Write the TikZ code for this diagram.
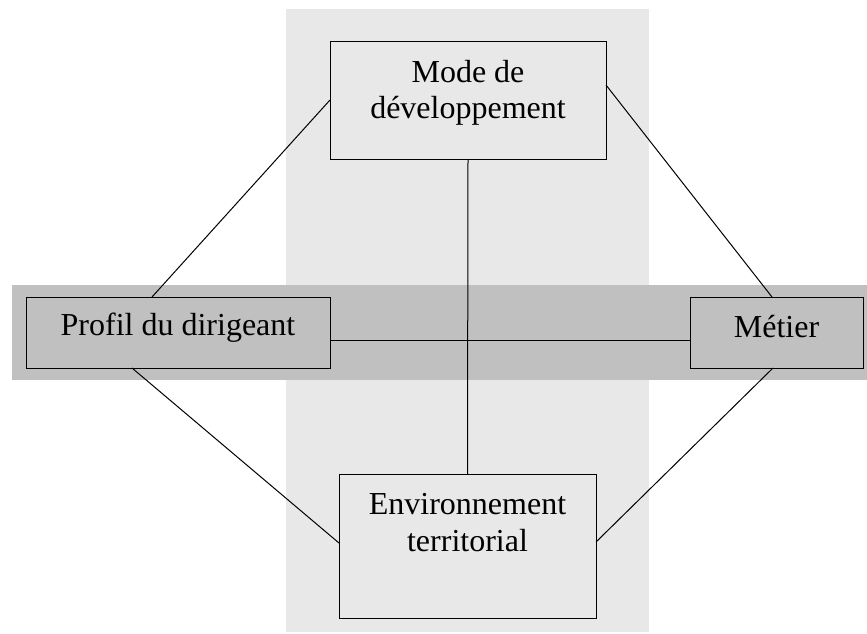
\documentclass[tikz,border=0pt]{standalone}
\usepackage{fontspec}
\setmainfont{Liberation Serif}
\definecolor{lightband}{RGB}{232,232,232}
\definecolor{darkband}{RGB}{192,192,192}
\begin{document}
\begin{tikzpicture}[x=1pt,y=-1pt,
  box/.style={draw=black,line width=1pt,inner sep=0pt,outer sep=0pt},
  lab/.style={font=\fontsize{32pt}{37pt}\selectfont,inner sep=0pt,anchor=base},
  conn/.style={line width=1pt,draw=black}]
\useasboundingbox (0,0) rectangle (867,633);
% bands
\fill[lightband] (286,9) rectangle (649,632);
\fill[darkband] (12,285) rectangle (867,380);
% boxes
\node[box,fill=lightband,minimum width=276pt,minimum height=118pt] (mode) at (468,100) {};
\node[box,fill=darkband,minimum width=304pt,minimum height=71pt] (profil) at (178,332.5) {};
\node[box,fill=darkband,minimum width=173pt,minimum height=71pt] (metier) at (776.5,332.5) {};
\node[box,fill=lightband,minimum width=257pt,minimum height=144pt] (env) at (467.5,546) {};
% labels
\node[lab] (l1) at (468,82) {Mode de};
\node[lab] (l2) at (468,118) {développement};
\node[lab] (l3) at (178,335) {Profil du dirigeant};
\node[lab] (l4) at (776.5,337) {Métier};
\node[lab] (l5) at (467.5,514) {Environnement};
\node[lab] (l6) at (467.5,551) {territorial};
% connectors
\draw[conn] (mode.west) -- ([xshift=126pt]profil.north west);
\draw[conn] ([yshift=-44pt]mode.north east) -- ([xshift=82pt]metier.north west);
\draw[conn] (mode.south) -- (env.north);
\draw[conn] ([yshift=-43pt]profil.north east) -- ([yshift=-43pt]metier.north west);
\draw[conn] ([xshift=106pt]profil.south west) -- ([yshift=-69pt]env.north west);
\draw[conn] ([xshift=83pt]metier.south west) -- ([yshift=-68pt]env.north east);
\end{tikzpicture}
\end{document}
